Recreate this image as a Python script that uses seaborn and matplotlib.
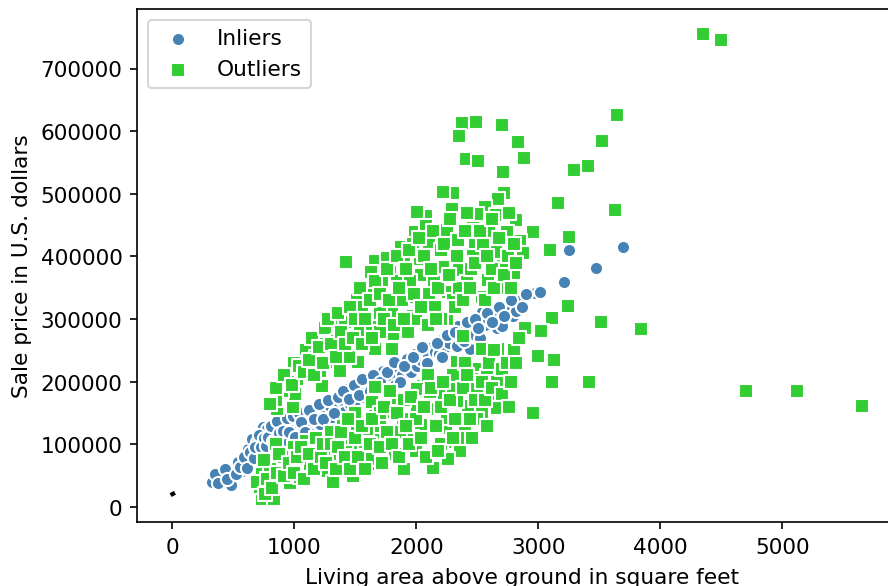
import matplotlib
matplotlib.use("Agg")
import matplotlib.pyplot as plt
import seaborn as sns

# RANSAC fit on living area vs sale price
inlier_x = [328, 410, 484, 492, 574, 600, 623, 631, 656, 697, 720, 746, 762, 779, 800, 820,
            850, 869, 885, 900, 930, 951, 975, 1000, 1020, 1049, 1070, 1107, 1130, 1148, 1180,
            1213, 1230, 1260, 1290, 1311, 1320, 1350, 1377, 1393, 1410, 1434, 1460, 1484, 1510,
            1525, 1541, 1570, 1598, 1607, 1639, 1660, 1690, 1730, 1750, 1780, 1803, 1830, 1852,
            1880, 1910, 1926, 1934, 1960, 1992, 2010, 2040, 2074, 2100, 2130, 2156, 2190, 2221,
            2238, 2270, 2300, 2336, 2344, 2370, 2400, 2443, 2467, 2490, 2520, 2541, 2560, 2590,
            2631, 2660, 2689, 2705, 2746, 2746, 2754, 2790, 2820, 2836, 2844, 2975, 3016, 3213,
            3254, 3475, 3697,
            350, 380, 430, 450, 520, 540, 560, 590, 610, 640, 670, 680, 710, 730, 750, 770, 790,
            810, 830, 860, 880, 910, 940, 960, 990, 1010, 1040, 1060, 1090, 1120, 1160, 1200,
            1240, 1280, 1330, 1360, 1400, 1450, 1490, 1530, 1560, 1620, 1650, 1700, 1760, 1820,
            1870, 1900, 1970, 2050, 2090, 2170, 2210, 2250, 2320, 2390, 2420, 2480, 2510, 2580,
            2620, 2680, 2720, 2780, 2870, 2900]
inlier_y = [40000, 48000, 35000, 61000, 57000, 70000, 93000, 73000, 109000, 104000, 82000,
            128000, 85000, 125000, 100000, 117000, 120000, 105000, 129000, 112000, 135000,
            105000, 132000, 118000, 140000, 125000, 128000, 144000, 125000, 157000, 135000,
            132000, 161000, 150000, 162000, 144000, 169000, 158000, 180000, 171000, 152000,
            188000, 165000, 176000, 170000, 196000, 184000, 175000, 200000, 200000, 201000,
            185000, 195000, 217000, 188000, 205000, 209000, 195000, 224000, 210000, 232000,
            236000, 220000, 215000, 244000, 225000, 235000, 249000, 240000, 255000, 248000,
            245000, 268000, 255000, 262000, 275000, 257000, 289000, 270000, 282000, 252000,
            276000, 290000, 270000, 311000, 290000, 300000, 303000, 285000, 297000, 289000,
            351000, 315000, 316000, 305000, 313000, 335000, 334000, 342000, 343000, 359000,
            410000, 382000, 415000,
            52000, 38000, 60000, 45000, 52000, 72000, 64000, 80000, 62000, 88000, 78000, 95000,
            115000, 96000, 110000, 98000, 112000, 130000, 105000, 138000, 118000, 122000,
            142000, 120000, 145000, 112000, 150000, 135000, 120000, 155000, 140000, 165000,
            140000, 170000, 150000, 175000, 185000, 172000, 195000, 178000, 205000, 185000,
            210000, 200000, 215000, 232000, 200000, 225000, 240000, 255000, 230000, 262000,
            240000, 275000, 280000, 265000, 295000, 300000, 285000, 310000, 295000, 320000,
            305000, 330000, 320000, 340000]

outlier_x = [4350, 4500, 4705, 5123, 5650, 3844, 3648, 3525, 3410, 3295, 3164, 3631, 3254, 3098,
             3246, 3115, 3033, 3516, 3131, 3016, 3115, 3418, 2959, 2705, 2689,
             2836, 2885, 2713, 2705, 2820, 2959, 2852, 2877, 2746, 2803, 2713, 2893, 3025, 2795, 3000,
             2377, 2492, 2353, 2410, 2508, 2303, 2221, 2721, 2672, 2295, 2566, 2082, 2008, 2656,
             2500, 2254, 2467, 1992, 2082, 2344, 2484, 1877, 1975, 2107, 2656, 1426, 1664, 1992,
             2221, 2467, 1631, 1787, 1844, 2041, 2353, 2148, 2418, 2590, 1516, 1680, 1951, 2262,
             2541, 2107, 1762, 2033,
             1320, 1541, 1787, 1951, 2254, 2385, 1402, 1664, 1803, 1393, 1229, 1525, 1213, 2541,
             2672, 2336, 2484, 2582, 2664, 2057, 2197,
             738, 836, 738, 721, 844, 967, 934, 1090, 1098, 1254, 1320, 1484, 1279, 1311, 1434,
             1541, 1484, 1582, 861, 992, 1008, 1025, 1230, 1213, 1311, 1377, 1311, 1516,
             2656, 2541, 2664, 2426, 2336, 2336, 2459, 2213, 2115, 2254, 2361, 2402, 2262, 2139,
             2246, 2238, 2041, 1967, 1787, 1680, 1664, 2008, 1787, 1803, 1893, 1869, 1664, 2008,
             2115, 2303, 1639, 1664, 1787,
             1812, 1664, 1934, 1639, 1975, 1803,
             1100, 1150, 1250, 1000, 950, 900, 850, 1049, 1377, 1623, 1828, 1131, 1295,
             1180, 1260, 1350, 1420, 1450, 1560, 1600, 1700, 1720, 1900, 1950, 2150, 2200, 2300,
             2350, 2400, 2450, 2550, 2600, 2620, 2700, 2750, 2800, 1880, 1700, 2000, 2100, 2200,
             1200, 1400, 1500, 1700, 1900, 2000, 2100, 2200, 2300, 2400, 2500, 2600, 2700, 2800,
             2500, 2400, 2200, 2000, 1900, 1700, 1600, 1400, 1300, 1100, 1000, 900, 850, 800, 750,
             # upper part of the cloud
             800, 850, 920, 980, 1040, 1080, 1120, 1160, 1200, 1240, 1280, 1300, 1340, 1360, 1380,
             1420, 1460, 1480, 1500, 1540, 1560, 1580, 1620, 1640, 1660, 1700, 1740, 1760, 1780,
             1820, 1840, 1860, 1900, 1920, 1940, 1980, 2020, 2040, 2060, 2120, 2140, 2160, 2180,
             2230, 2270, 2280, 2320, 2330, 2380, 2420, 2440, 2480, 2520, 2560, 2580, 2620, 2640,
             2680, 2720, 2760, 2780, 2820,
             # lower part of the cloud
             700, 760, 780, 820, 860, 880, 920, 960, 1000, 1020, 1060, 1080, 1120, 1160, 1180,
             1220, 1240, 1260, 1300, 1340, 1360, 1380, 1420, 1440, 1460, 1500, 1520, 1560, 1580,
             1620, 1640, 1700, 1720, 1740, 1760, 1800, 1840, 1860, 1920, 1940, 1960, 2040, 2060,
             2080, 2120, 2160, 2180, 2220, 2280, 2300, 2320, 2380, 2420, 2440, 2460, 2480, 2540,
             2560, 2580, 2620, 2640, 2700, 2740, 2760, 2780, 2820, 2840]
outlier_y = [755000, 745000, 185000, 185000, 161000, 284000, 626000, 585000, 545000, 538000,
             486000, 474000, 431000, 410000,
             321000, 302000, 281000, 296000, 235000, 241000, 200000, 200000, 150000, 157000, 180000,
             583000, 557000, 535000, 610000, 458000, 439000, 425000, 406000, 439000, 374000,
             385000, 286000, 281000, 251000, 241000,
             613000, 615000, 593000, 555000, 553000, 501000, 503000, 501000, 492000, 476000,
             479000, 465000, 471000, 466000, 468000, 442000, 446000, 439000, 449000, 426000,
             418000, 415000, 420000, 423000, 407000, 391000, 393000, 396000, 383000, 401000,
             375000, 375000, 361000, 371000, 379000, 359000, 359000, 363000, 331000, 337000,
             335000, 343000, 335000, 340000, 398000, 396000,
             284000, 280000, 276000, 280000, 300000, 273000, 252000, 249000, 252000, 220000,
             209000, 231000, 193000, 252000, 252000, 228000, 220000, 209000, 200000, 193000,
             188000,
             13000, 13000, 53000, 32000, 64000, 38000, 78000, 93000, 72000, 57000, 40000, 50000,
             81000, 104000, 104000, 88000, 128000, 104000, 157000, 160000, 180000, 204000,
             193000, 217000, 232000, 217000, 287000, 305000,
             179000, 152000, 158000, 161000, 169000, 231000, 204000, 180000, 157000, 141000,
             89000, 129000, 77000, 62000, 120000, 104000, 131000, 112000, 88000, 109000, 69000,
             188000, 169000, 152000, 141000, 120000, 145000, 157000, 184000, 193000, 168000,
             192000, 185000,
             276000, 252000, 280000, 287000, 305000, 311000,
             250000, 270000, 285000, 230000, 200000, 185000, 170000, 48000, 69000, 77000, 85000,
             69000, 85000,
             240000, 260000, 265000, 295000, 240000, 320000, 350000, 310000, 360000, 390000,
             360000, 320000, 410000, 330000, 350000, 440000, 380000, 420000, 440000, 380000,
             350000, 400000, 420000, 330000, 280000, 300000, 290000, 300000,
             105000, 130000, 150000, 130000, 170000, 140000, 210000, 160000, 210000, 230000,
             190000, 230000, 220000, 250000,
             140000, 110000, 100000, 90000, 60000, 150000, 125000, 110000, 120000, 105000,
             95000, 80000, 100000, 60000, 75000,
             165000, 190000, 210000, 195000, 225000, 215000, 235000, 210000, 255000, 230000,
             300000, 260000, 240000, 310000, 280000, 260000, 320000, 270000, 300000, 350000,
             260000, 300000, 330000, 270000, 360000, 340000, 300000, 380000, 330000, 290000,
             400000, 350000, 300000, 380000, 410000, 340000, 430000, 320000, 400000, 380000,
             440000, 300000, 350000, 420000, 370000, 460000, 320000, 400000, 330000, 470000,
             350000, 390000, 440000, 330000, 400000, 460000, 350000, 430000, 370000, 470000,
             350000, 390000,
             40000, 20000, 45000, 30000, 55000, 85000, 50000, 70000, 55000, 80000, 95000, 45000,
             85000, 60000, 110000, 80000, 100000, 70000, 100000, 60000, 95000, 120000, 80000,
             140000, 60000, 110000, 80000, 130000, 60000, 100000, 140000, 95000, 70000, 160000,
             120000, 100000, 150000, 80000, 130000, 100000, 175000, 110000, 160000, 80000,
             190000, 130000, 90000, 200000, 170000, 110000, 140000, 190000, 210000, 140000,
             110000, 170000, 200000, 170000, 130000, 190000, 250000, 180000, 230000, 160000,
             200000, 230000, 270000]

# fitted line, evaluated only over a tiny x range
line_x = [3, 9]
line_y = [20500, 21100]

x_ticks = [0, 1000, 2000, 3000, 4000, 5000]

plt.rcParams['font.size'] = 10.4

fig = plt.figure(figsize=(5.92, 3.913), dpi=150)
ax = fig.add_axes([137 / 888, 64 / 587, 770 / 888, 513 / 587])

sns.scatterplot(x=inlier_x, y=inlier_y, color='steelblue', edgecolor='white',
                linewidth=1.0, marker='o', s=40, label='Inliers', ax=ax)
sns.scatterplot(x=outlier_x, y=outlier_y, color='limegreen', edgecolor='white',
                linewidth=1.0, marker='s', s=40, label='Outliers', ax=ax)
sns.lineplot(x=line_x, y=line_y, color='black', lw=2, ax=ax)

ax.set_xlim(-287, 6020)
ax.set_ylim(-24000, 795000)
ax.set_xticks(x_ticks)
ax.set_xlabel('Living area above ground in square feet', labelpad=5)
ax.set_ylabel('Sale price in U.S. dollars')
ax.legend(loc='upper left')

fig.savefig('out.png', dpi=150)
